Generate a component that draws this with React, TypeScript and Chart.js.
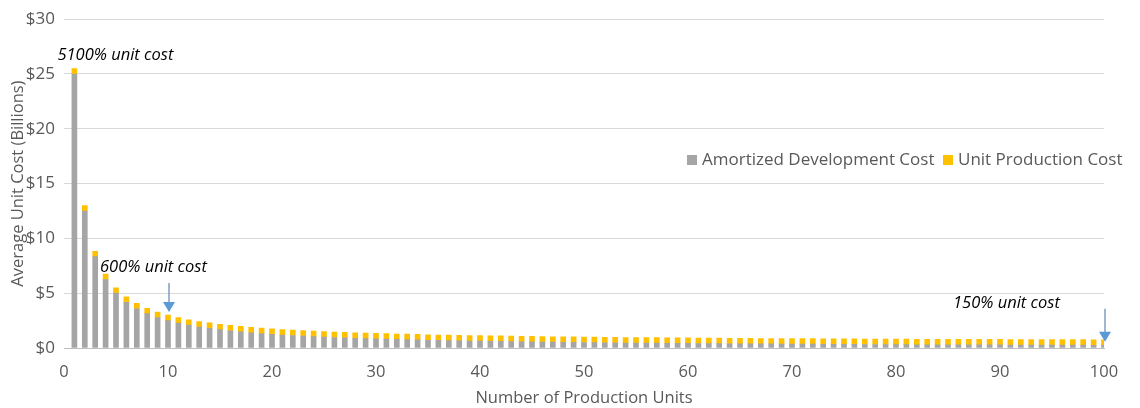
import { useEffect, useRef } from "react";
import { Chart, registerables } from "chart.js";

Chart.register(...registerables);

// Number of units produced (x position of each bar)
const productionUnits = [
  1, 2, 3, 4, 5, 6, 7, 8, 9, 10, 11, 12, 13, 14, 15, 16, 17, 18, 19, 20,
  21, 22, 23, 24, 25, 26, 27, 28, 29, 30, 31, 32, 33, 34, 35, 36, 37, 38, 39, 40,
  41, 42, 43, 44, 45, 46, 47, 48, 49, 50, 51, 52, 53, 54, 55, 56, 57, 58, 59, 60,
  61, 62, 63, 64, 65, 66, 67, 68, 69, 70, 71, 72, 73, 74, 75, 76, 77, 78, 79, 80,
  81, 82, 83, 84, 85, 86, 87, 88, 89, 90, 91, 92, 93, 94, 95, 96, 97, 98, 99, 100,
];

// Development cost spread over the production run ($ billions per unit)
const amortizedDevelopmentCost = [
  25.0, 12.5, 8.33, 6.25, 5.0, 4.17, 3.57, 3.13, 2.78, 2.5,
  2.27, 2.08, 1.92, 1.79, 1.67, 1.56, 1.47, 1.39, 1.32, 1.25,
  1.19, 1.14, 1.09, 1.04, 1.0, 0.96, 0.93, 0.89, 0.86, 0.83,
  0.81, 0.78, 0.76, 0.74, 0.71, 0.69, 0.68, 0.66, 0.64, 0.63,
  0.61, 0.6, 0.58, 0.57, 0.56, 0.54, 0.53, 0.52, 0.51, 0.5,
  0.49, 0.48, 0.47, 0.46, 0.45, 0.45, 0.44, 0.43, 0.42, 0.42,
  0.41, 0.4, 0.4, 0.39, 0.38, 0.38, 0.37, 0.37, 0.36, 0.36,
  0.35, 0.35, 0.34, 0.34, 0.33, 0.33, 0.32, 0.32, 0.32, 0.31,
  0.31, 0.3, 0.3, 0.3, 0.29, 0.29, 0.29, 0.28, 0.28, 0.28,
  0.27, 0.27, 0.27, 0.27, 0.26, 0.26, 0.26, 0.26, 0.25, 0.25,
];

// Recurring cost of building each unit ($ billions)
const unitProductionCost = [
  0.5, 0.5, 0.5, 0.5, 0.5, 0.5, 0.5, 0.5, 0.5, 0.5,
  0.5, 0.5, 0.5, 0.5, 0.5, 0.5, 0.5, 0.5, 0.5, 0.5,
  0.5, 0.5, 0.5, 0.5, 0.5, 0.5, 0.5, 0.5, 0.5, 0.5,
  0.5, 0.5, 0.5, 0.5, 0.5, 0.5, 0.5, 0.5, 0.5, 0.5,
  0.5, 0.5, 0.5, 0.5, 0.5, 0.5, 0.5, 0.5, 0.5, 0.5,
  0.5, 0.5, 0.5, 0.5, 0.5, 0.5, 0.5, 0.5, 0.5, 0.5,
  0.5, 0.5, 0.5, 0.5, 0.5, 0.5, 0.5, 0.5, 0.5, 0.5,
  0.5, 0.5, 0.5, 0.5, 0.5, 0.5, 0.5, 0.5, 0.5, 0.5,
  0.5, 0.5, 0.5, 0.5, 0.5, 0.5, 0.5, 0.5, 0.5, 0.5,
  0.5, 0.5, 0.5, 0.5, 0.5, 0.5, 0.5, 0.5, 0.5, 0.5,
];

const seriesNames = ["Amortized Development Cost", "Unit Production Cost"];
const seriesColors = ["#A5A5A5", "#FFC000"];

const xTickValues = [0, 10, 20, 30, 40, 50, 60, 70, 80, 90, 100];
const yTickValues = [0, 5, 10, 15, 20, 25, 30];

// Production counts that get a "% of unit cost" callout
const calloutUnits = [1, 10, 100];
// Callout styling: text offset from the bar top, and whether an arrow is drawn
const calloutTextDx = [-17, -68, -151];
const calloutTextDy = [-13, -48, -36];
const calloutArrow = [false, true, true];
const calloutArrowTipDy = [0, -3, 2];
const calloutArrowLength = [0, 29, 33];

const FONT = "'Open Sans', 'DejaVu Sans', sans-serif";

const calloutPlugin = {
  id: "callouts",
  afterDatasetsDraw(chart: any) {
    const { ctx, scales } = chart;
    const xs = scales.x;
    const ys = scales.y;
    ctx.save();
    calloutUnits.forEach((u, k) => {
      const i = productionUnits.indexOf(u);
      const total = amortizedDevelopmentCost[i] + unitProductionCost[i];
      const pct = Math.round((total / unitProductionCost[i]) * 100);
      const px = xs.getPixelForValue(u);
      const py = ys.getPixelForValue(total);
      ctx.font = `italic 16.5px ${FONT}`;
      ctx.fillStyle = "#000000";
      ctx.textAlign = "left";
      ctx.textBaseline = "middle";
      ctx.fillText(`${pct}% unit cost`, px + calloutTextDx[k], py + calloutTextDy[k]);
      if (calloutArrow[k]) {
        const tipY = py + calloutArrowTipDy[k];
        const startY = tipY - calloutArrowLength[k];
        const headH = 10;
        const headW = 6;
        ctx.strokeStyle = "#7F9CC0";
        ctx.lineWidth = 1.5;
        ctx.beginPath();
        ctx.moveTo(px + 1, startY);
        ctx.lineTo(px + 1, tipY - headH + 1);
        ctx.stroke();
        ctx.fillStyle = "#5B9BD5";
        ctx.beginPath();
        ctx.moveTo(px + 1 - headW, tipY - headH);
        ctx.lineTo(px + 1 + headW, tipY - headH);
        ctx.lineTo(px + 1, tipY);
        ctx.closePath();
        ctx.fill();
      }
    });
    ctx.restore();
  },
};

const legendPlugin = {
  id: "insideLegend",
  afterDraw(chart: any) {
    const { ctx } = chart;
    ctx.save();
    ctx.font = `17px ${FONT}`;
    ctx.textBaseline = "middle";
    ctx.textAlign = "left";
    const y = 160;
    const starts = [687, 943];
    seriesNames.forEach((name, k) => {
      const x = starts[k];
      ctx.fillStyle = seriesColors[k];
      ctx.fillRect(x, y - 5, 10, 10);
      ctx.fillStyle = "#595959";
      ctx.fillText(name, x + 15, y);
    });
    ctx.restore();
  },
};

export default function App() {
  const canvasRef = useRef<HTMLCanvasElement | null>(null);

  useEffect(() => {
    document.body.style.margin = "0";
    const canvas = canvasRef.current;
    if (!canvas) return;

    const datasets = [amortizedDevelopmentCost, unitProductionCost].map((values, k) => ({
      label: seriesNames[k],
      data: productionUnits.map((u, i) => ({ x: u, y: values[i] })),
      backgroundColor: seriesColors[k],
      borderWidth: 0,
      barThickness: 5,
    }));

    Chart.defaults.font.family = FONT;
    Chart.defaults.color = "#595959";

    const chart = new Chart(canvas, {
      type: "bar",
      data: { datasets },
      plugins: [calloutPlugin, legendPlugin],
      options: {
        responsive: false,
        animation: false,
        layout: { padding: { left: 8, top: 16, right: 36, bottom: 0 } },
        plugins: {
          legend: { display: false },
          tooltip: { enabled: false },
        },
        scales: {
          x: {
            type: "linear",
            min: 0,
            max: 100,
            stacked: true,
            offset: false,
            afterBuildTicks: (scale: any) => {
              scale.ticks = xTickValues.map((v) => ({ value: v }));
            },
            afterFit: (scale: any) => {
              scale.height = 60;
            },
            grid: { display: false, drawTicks: false },
            border: { display: true, color: "#BFBFBF", width: 1 },
            ticks: {
              font: { size: 16.5 },
              color: "#595959",
              padding: 14,
              maxRotation: 0,
              autoSkip: false,
            },
            title: {
              display: true,
              text: "Number of Production Units",
              font: { size: 16.5 },
              color: "#595959",
              padding: { top: 0, bottom: 0 },
            },
          },
          y: {
            type: "linear",
            min: 0,
            max: 30,
            stacked: true,
            afterBuildTicks: (scale: any) => {
              scale.ticks = yTickValues.map((v) => ({ value: v }));
            },
            afterFit: (scale: any) => {
              scale.width = 56;
            },
            grid: { color: "#D9D9D9", lineWidth: 1, drawTicks: false },
            border: { display: false },
            ticks: {
              font: { size: 17 },
              color: "#595959",
              padding: 9,
              callback: (v: any) => `$${v}`,
            },
            title: {
              display: true,
              text: "Average Unit Cost (Billions)",
              font: { size: 16.5 },
              color: "#595959",
              padding: { top: 0, bottom: 0 },
            },
          },
        },
      },
    } as any);

    return () => chart.destroy();
  }, []);

  return (
    <div style={{ width: 1140, height: 408, background: "#ffffff" }}>
      <canvas ref={canvasRef} width={1140} height={408} style={{ display: "block" }} />
    </div>
  );
}
